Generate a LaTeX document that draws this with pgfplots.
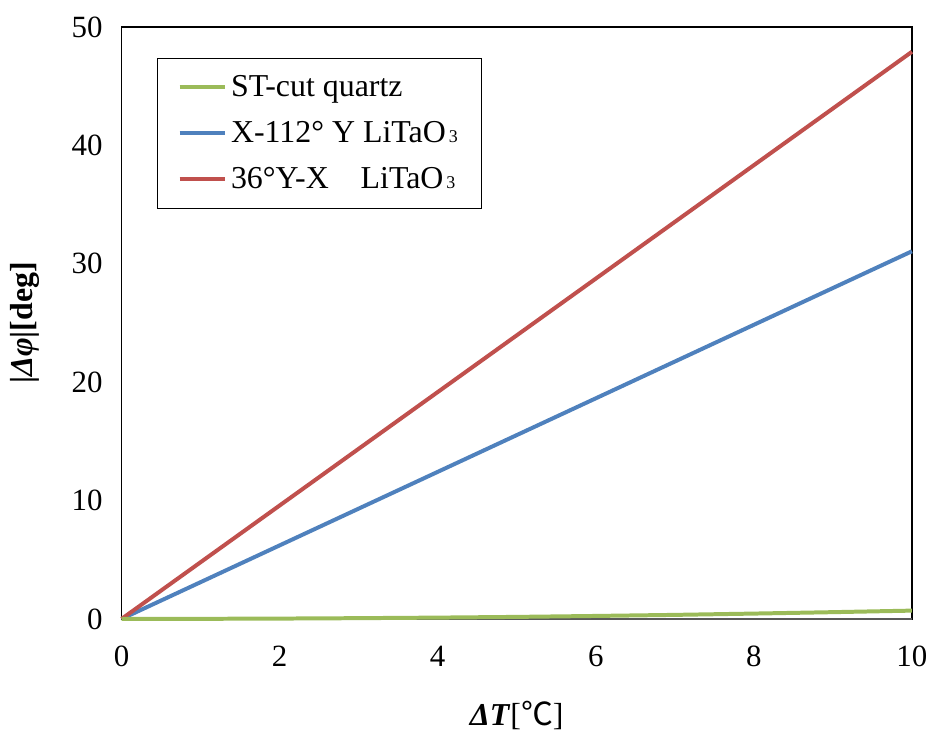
\documentclass[border=0pt]{standalone}
\usepackage{fontspec}
\setmainfont{Liberation Serif}
\newfontfamily\cjk{Noto Sans CJK JP}
\usepackage{pgfplots}
\pgfplotsset{compat=1.18}
\definecolor{cgreen}{HTML}{9BBB59}
\definecolor{cblue}{HTML}{4F81BD}
\definecolor{cred}{HTML}{C0504D}
\begin{document}
\begin{tikzpicture}[x=1pt,y=1pt]
\path (-61,-59.5) rectangle (406,310.5);
\begin{axis}[
  at={(0,0)}, anchor=south west,
  scale only axis, width=396.5pt, height=297pt,
  xmin=0, xmax=10, ymin=0, ymax=50,
  xtick={0,2,...,10}, ytick={0,10,...,50},
  /pgf/number format/assume math mode=true,
  tick style={draw=none},
  axis line style={black, line width=0.6pt},
  ticklabel style={font=\fontsize{15.5}{18}\selectfont},
  xticklabel style={yshift=-10pt},
  yticklabel style={xshift=-6pt},
  xlabel={\textbf{\textit{Δ}}\textbf{\textit{T}}[{\cjk ℃}]},
  ylabel={\textbf{|\textit{Δφ}|[deg]}},
  every axis x label/.style={at={(rel axis cs:0.5,0)}, anchor=center, yshift=-48.5pt, font=\fontsize{16}{19}\selectfont},
  every axis y label/.style={at={(rel axis cs:0,0.5)}, xshift=-48.5pt, rotate=90, anchor=center, font=\fontsize{16}{19}\selectfont},
  clip=false,
]
\draw[gray!70!black, line width=0.8pt] (axis cs:0,0) -- (axis cs:10,0);
\addplot[cblue, line width=2pt] coordinates {(0,0) (10,31.05)};
\addplot[cred, line width=2pt] coordinates {(0,0) (10,47.9)};
\addplot[cgreen, line width=2pt] coordinates {(0,0) (1,0.007) (2,0.028) (3,0.063) (4,0.11) (5,0.17) (6,0.25) (7,0.34) (8,0.45) (9,0.57) (10,0.7)};
\end{axis}
\begin{axis}[
  at={(0,0)}, anchor=south west,
  scale only axis, width=396.5pt, height=297pt,
  xmin=0, xmax=10, ymin=0, ymax=50,
  hide axis,
  legend style={at={(0.045,0.948)}, anchor=north west, draw=black, line width=0.6pt,
    font=\fontsize{16}{19}\selectfont, row sep=7pt, inner xsep=10pt, inner ysep=6.5pt},
  legend cell align=left,
  legend image code/.code={\draw[#1, line width=2pt] (0cm,0cm) -- (0.8cm,0cm);},
]
\addlegendimage{cgreen}
\addlegendentry{ST-cut quartz}
\addlegendimage{cblue}
\addlegendentry{X-112° Y LiTaO{\fontsize{9}{10}\selectfont\,3}}
\addlegendimage{cred}
\addlegendentry{36°Y-X\quad LiTaO{\fontsize{9}{10}\selectfont\,3}}
\end{axis}
\end{tikzpicture}
\end{document}
